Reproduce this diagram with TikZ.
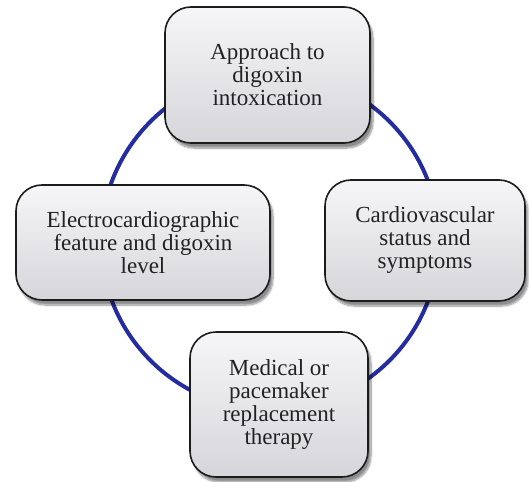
\documentclass[tikz,border=0pt]{standalone}
\usepackage{fontspec}
\setmainfont{Liberation Serif}
\usetikzlibrary{shadows.blur}
\definecolor{ringblue}{RGB}{36,44,160}
\definecolor{boxtop}{RGB}{246,246,248}
\definecolor{boxbottom}{RGB}{214,214,218}
\definecolor{boxedge}{RGB}{28,28,28}
\definecolor{boxtext}{RGB}{34,34,34}
\tikzset{
  stage/.style={
    draw=boxedge, line width=1.6pt, rounded corners=26pt,
    top color=boxtop, bottom color=boxbottom,
    inner sep=0pt, align=center, text=boxtext,
    font=\fontsize{23}{23}\selectfont,
    blur shadow={shadow xshift=3pt, shadow yshift=-5pt,
                 shadow blur steps=10, shadow opacity=45}
  },
  ring/.style={draw=ringblue, line width=4pt}
}
\begin{document}
\begin{tikzpicture}[x=1pt,y=-1pt]
  \useasboundingbox (0,0) rectangle (529,481);
  % cycle ring behind the boxes
  \coordinate (hub) at (270,241);
  \draw[ring] (hub) circle (169pt);
  % the four stages
  \node[stage, minimum width=205pt, minimum height=136pt]
    (approach) at (267.5,75) {Approach to\\digoxin\\intoxication};
  \node[stage, minimum width=254pt, minimum height=115pt]
    (ecg) at (143,242.5) {Electrocardiographic\\feature and digoxin\\level};
  \node[stage, minimum width=200pt, minimum height=121pt]
    (cardio) at (425,240.5) {Cardiovascular\\status and\\symptoms};
  \node[stage, minimum width=178pt, minimum height=145pt]
    (therapy) at (279,404.5) {Medical or\\pacemaker\\replacement\\therapy};
\end{tikzpicture}
\end{document}
